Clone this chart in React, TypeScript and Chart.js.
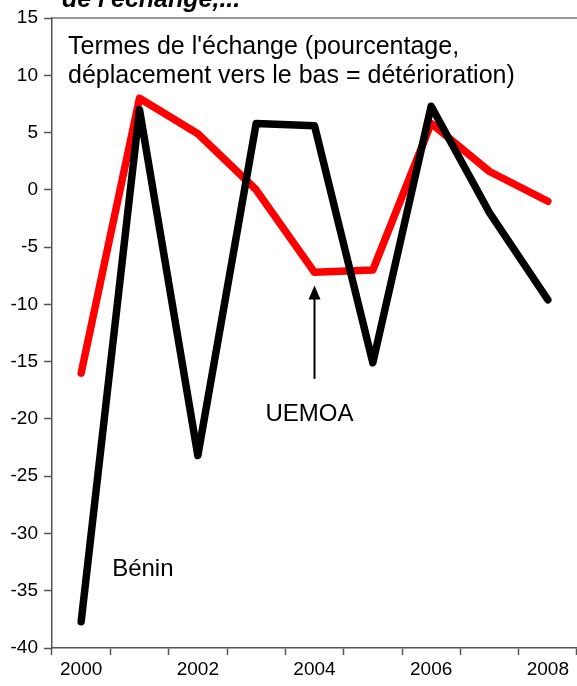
import React, { useEffect, useRef } from "react";
import { Chart, registerables } from "chart.js";

Chart.register(...registerables);

const years = ["2000", "2001", "2002", "2003", "2004", "2005", "2006", "2007", "2008"];
const benin = [-37.7, 7.0, -23.2, 5.8, 5.6, -15.1, 7.3, -2.0, -9.6];
const uemoa = [-16.0, 8.0, 4.9, 0.0, -7.2, -7.0, 5.8, 1.6, -1.0];
const yTicks = [15, 10, 5, 0, -5, -10, -15, -20, -25, -30, -35, -40];
const titleLines = ["Termes de l'échange (pourcentage,", "déplacement vers le bas = détérioration)"];
const topText = "de l'échange,...";
const labelUemoa = "UEMOA";
const labelBenin = "Bénin";

const FONT = "'Liberation Sans', Arial, sans-serif";

const annotations = {
  id: "annotations",
  afterDraw(chart: any) {
    const { ctx, chartArea, scales } = chart;
    const x = scales.x;
    const y = scales.y;
    ctx.save();
    // top border
    ctx.strokeStyle = "#777";
    ctx.lineWidth = 1.5;
    ctx.beginPath();
    ctx.moveTo(chartArea.left, chartArea.top);
    ctx.lineTo(chartArea.right, chartArea.top);
    ctx.stroke();

    ctx.fillStyle = "#000";
    ctx.textBaseline = "alphabetic";
    ctx.textAlign = "left";
    ctx.font = `25px ${FONT}`;
    ctx.fillText(titleLines[0], chartArea.left + 16, 54);
    ctx.fillText(titleLines[1], chartArea.left + 16, 82.5);

    ctx.font = `24px ${FONT}`;
    ctx.fillText(labelUemoa, x.getPixelForValue(4) - 49, y.getPixelForValue(-19.5) + 8);
    ctx.fillText(labelBenin, x.getPixelForValue(0) + 31, y.getPixelForValue(-33.0) + 8);

    // top cut-off title
    ctx.font = `italic bold 25px ${FONT}`;
    ctx.fillText(topText, 62, 7);

    // arrow
    const ax = x.getPixelForValue(4);
    const y0 = y.getPixelForValue(-16.5);
    const y1 = y.getPixelForValue(-8.35);
    ctx.strokeStyle = "#000";
    ctx.lineWidth = 2;
    ctx.beginPath();
    ctx.moveTo(ax, y0);
    ctx.lineTo(ax, y1 + 12);
    ctx.stroke();
    ctx.beginPath();
    ctx.moveTo(ax, y1);
    ctx.lineTo(ax - 6, y1 + 14);
    ctx.lineTo(ax + 6, y1 + 14);
    ctx.closePath();
    ctx.fill();
    ctx.restore();
  },
};

export default function App() {
  const ref = useRef<HTMLCanvasElement>(null);
  useEffect(() => {
    document.body.style.margin = "0";
    const chart = new Chart(ref.current!, {
      type: "line",
      data: {
        labels: years,
        datasets: [
          {
            label: "Bénin",
            data: benin,
            borderColor: "#000",
            borderWidth: 7.5,
            pointRadius: 0,
            borderCapStyle: "round",
            borderJoinStyle: "round",
            tension: 0,
          },
          {
            label: "UEMOA",
            data: uemoa,
            borderColor: "#ff0000",
            borderWidth: 7.5,
            pointRadius: 0,
            borderCapStyle: "round",
            borderJoinStyle: "round",
            tension: 0,
          },
        ],
      },
      options: {
        animation: false,
        responsive: false,
        layout: { padding: { top: 18, right: 0, left: 0, bottom: 0 } },
        plugins: { legend: { display: false }, tooltip: { enabled: false } },
        scales: {
          x: {
            offset: true,
            afterFit: (s: any) => { s.height = 38; },
            grid: { offset: true, drawOnChartArea: false, drawTicks: true, tickLength: 7, color: "#555", tickWidth: 1.5 },
            border: { color: "#555", width: 1.5 },
            ticks: {
              autoSkip: false,
              maxRotation: 0,
              color: "#000",
              font: { family: FONT, size: 19 },
              padding: 3,
              callback: (_v: any, i: number) => (i % 2 === 0 ? years[i] : ""),
            },
          },
          y: {
            min: -40,
            max: 15,
            afterFit: (s: any) => { s.width = 52; },
            afterBuildTicks: (s: any) => { s.ticks = yTicks.map((v) => ({ value: v })); },
            grid: { drawOnChartArea: false, drawTicks: true, tickLength: 8, color: "#555", tickWidth: 1.5 },
            border: { color: "#555", width: 1.5 },
            ticks: { color: "#000", font: { family: FONT, size: 19 }, padding: 6 },
          },
        },
      },
      plugins: [annotations],
    });
    return () => chart.destroy();
  }, []);
  return <canvas ref={ref} width={577} height={686} style={{ display: "block" }} />;
}
